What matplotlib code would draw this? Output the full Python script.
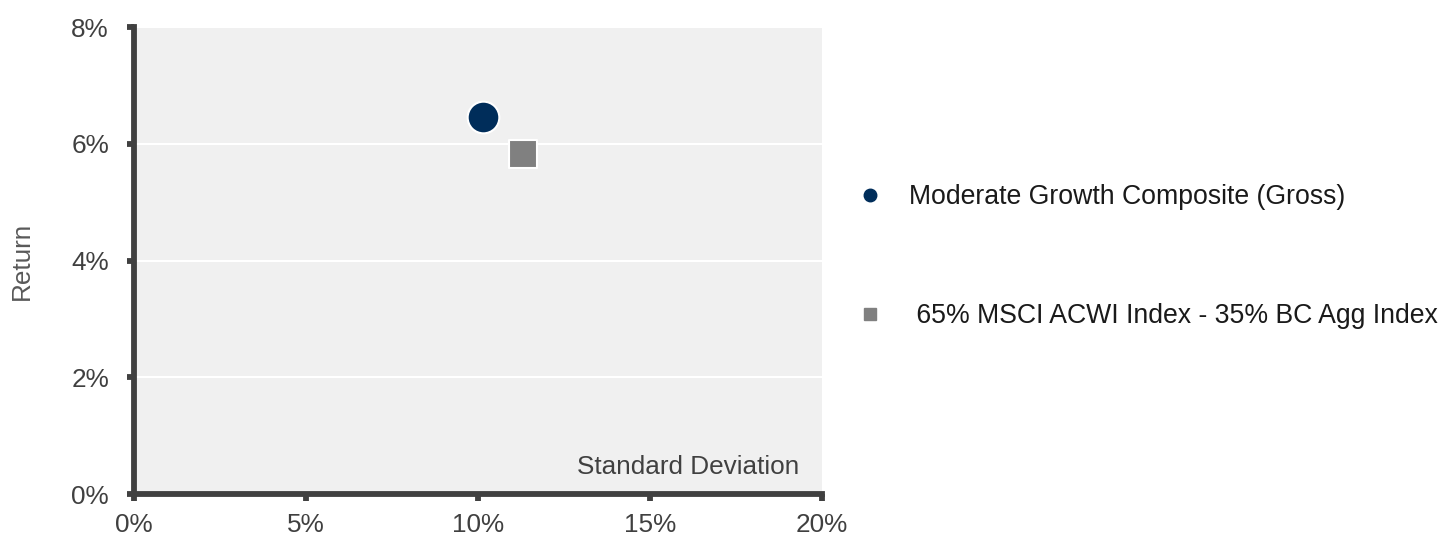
import matplotlib.pyplot as plt
from matplotlib.lines import Line2D
from matplotlib.ticker import FuncFormatter

plt.rcParams['font.family'] = ['Liberation Sans', 'DejaVu Sans']

# Data
names = ['Moderate Growth Composite (Gross)', ' 65% MSCI ACWI Index - 35% BC Agg Index']
std_dev = [10.15, 11.3]
returns = [6.46, 5.82]
markers = ['o', 's']
colors = ['#002D5A', '#808080']
sizes = [520, 380]

fig = plt.figure(figsize=(14.45, 5.35), dpi=100)
ax = fig.add_axes([0.0927, 0.0766, 0.4762, 0.8729])
ax.set_facecolor('#F0F0F0')

for x, y, m, c, s in zip(std_dev, returns, markers, colors, sizes):
    ax.scatter(x, y, marker=m, s=s, color=c, edgecolors='white', linewidths=1.5, zorder=3)

ax.set_xlim(0, 20)
ax.set_ylim(0, 8)
ax.set_xticks([0, 5, 10, 15, 20])
ax.set_yticks([0, 2, 4, 6, 8])
pct = FuncFormatter(lambda v, p: f'{v:.0f}%')
ax.xaxis.set_major_formatter(pct)
ax.yaxis.set_major_formatter(pct)

# grid
ax.grid(axis='y', color='white', linewidth=1.5)
ax.set_axisbelow(True)

for side in ['top', 'right']:
    ax.spines[side].set_visible(False)
for side in ['left', 'bottom']:
    ax.spines[side].set_color('#404040')
    ax.spines[side].set_linewidth(4.2)
ax.tick_params(direction='out', length=5, width=4.2, color='#404040',
               labelsize=18.8, labelcolor='#404040')
ax.tick_params(axis='x', pad=9)
ax.tick_params(axis='y', pad=13)

ax.set_ylabel('Return', fontsize=18.8, color='#595959')
ax.yaxis.set_label_coords(-0.145, 0.5)
ax.text(0.9666, 0.058, 'Standard Deviation', transform=ax.transAxes, ha='right',
        va='center', fontsize=18.8, color='#404040')

handles = [Line2D([], [], linestyle='none', marker=m, color=c, markersize=9)
           for m, c in zip(markers, colors)]
leg = ax.legend(handles, names, loc='upper left', bbox_to_anchor=(1.05, 0.664),
                frameon=False, fontsize=19.2, labelspacing=3.5, handlelength=1.0,
                handletextpad=0.98, borderpad=0, borderaxespad=0)
for t in leg.get_texts():
    t.set_color('#1a1a1a')

fig.savefig('out.png', dpi=100)
